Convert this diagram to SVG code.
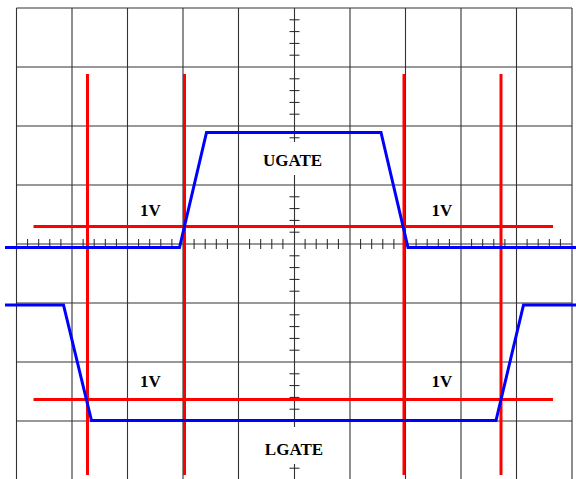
<svg xmlns="http://www.w3.org/2000/svg" width="576" height="479" viewBox="0 0 576 479">
<style>
.grid{stroke:#333;stroke-width:1.1;fill:none}
.tick{stroke:#222;stroke-width:1}
.red{stroke:#ff0000;stroke-width:3;fill:none}
.blue{stroke:#0000ff;stroke-width:3;fill:none;stroke-linejoin:miter}
.lbl{font-family:"Liberation Serif","Times New Roman",serif;font-weight:bold;font-size:17px;fill:#000}
</style>
<rect width="576" height="479" fill="#fff"/>
<g id="grid" class="grid">
<path d="M16.5 8V480M72 8V480M127.5 8V480M183 8V480M238.5 8V480M294.5 8V480M350 8V480M405.5 8V480M461 8V480M516.5 8V480M572 8V480"/>
<path d="M16.5 8H572M16.5 67H572M16.5 126H572M16.5 185H572M16.5 244H572M16.5 303H572M16.5 362H572M16.5 421H572M16.5 480H572"/>
</g>
<g id="ticks" class="tick">
<path d="M27.6 239V249M38.7 239V249M49.8 239V249M60.9 239V249M83.1 239V249M94.2 239V249M105.3 239V249M116.4 239V249M138.6 239V249M149.7 239V249M160.8 239V249M171.9 239V249M194.1 239V249M205.2 239V249M216.3 239V249M227.4 239V249M249.6 239V249M260.7 239V249M271.8 239V249M282.9 239V249M305.1 239V249M316.2 239V249M327.3 239V249M338.4 239V249M360.6 239V249M371.7 239V249M382.8 239V249M393.9 239V249M416.1 239V249M427.2 239V249M438.3 239V249M449.4 239V249M471.6 239V249M482.7 239V249M493.8 239V249M504.9 239V249M527.1 239V249M538.2 239V249M549.3 239V249M560.4 239V249"/>
<path d="M289.5 19.8H299.5M289.5 31.6H299.5M289.5 43.4H299.5M289.5 55.2H299.5M289.5 78.8H299.5M289.5 90.6H299.5M289.5 102.4H299.5M289.5 114.2H299.5M289.5 137.8H299.5M289.5 149.6H299.5M289.5 161.4H299.5M289.5 173.2H299.5M289.5 196.8H299.5M289.5 208.6H299.5M289.5 220.4H299.5M289.5 232.2H299.5M289.5 255.8H299.5M289.5 267.6H299.5M289.5 279.4H299.5M289.5 291.2H299.5M289.5 314.8H299.5M289.5 326.6H299.5M289.5 338.4H299.5M289.5 350.2H299.5M289.5 373.8H299.5M289.5 385.6H299.5M289.5 397.4H299.5M289.5 409.2H299.5M289.5 432.8H299.5M289.5 444.6H299.5M289.5 456.4H299.5M289.5 468.2H299.5"/>
</g>
<g id="label-boxes" fill="#fff">
<rect x="255" y="142" width="78" height="33"/>
<rect x="255" y="427" width="78" height="37"/>
</g>
<g id="connectors">
<g id="cursors" class="red">
<path d="M87.5 74V475M184.5 74V475M404 74V475M501 74V475"/>
<path d="M33.5 226.5H553M33.5 399.5H553"/>
</g>
<polyline id="ugate-trace" class="blue" points="5,247.5 179.5,247.5 206.5,132.5 381,132.5 408,247.5 576,247.5"/>
<polyline id="lgate-trace" class="blue" points="5,305 63.5,305 91.5,420.5 496,420.5 523.5,305 576,305"/>
</g>
<g id="labels" class="lbl">
<text id="ugate" x="292.5" y="166" text-anchor="middle">UGATE</text>
<text id="lgate" x="294" y="455" text-anchor="middle">LGATE</text>
<text x="140" y="216">1V</text>
<text x="431.5" y="216">1V</text>
<text x="140" y="387">1V</text>
<text x="431.5" y="387">1V</text>
</g>
</svg>
